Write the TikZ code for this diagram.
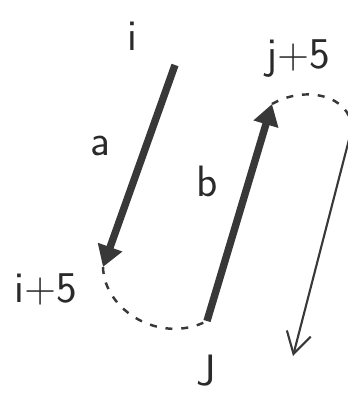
\documentclass[tikz,border=0pt]{standalone}
\usetikzlibrary{arrows.meta}
\definecolor{pencil}{HTML}{383838}
\definecolor{ink}{HTML}{2A2A2A}

\begin{document}
\begin{tikzpicture}[x=0.02cm,y=-0.02cm,font=\sffamily\fontsize{25}{27}\selectfont,>=Latex]
\tikzset{
  strand/.style={pencil,line width=4.2pt,-{Triangle[length=12pt,width=14pt]}},
  hop/.style={pencil,line width=1.4pt,dash pattern=on 4pt off 5pt},
  back/.style={pencil,line width=1.2pt,-{Straight Barb[length=12pt,width=14pt]}},
  lbl/.style={ink}
}
\useasboundingbox (0,0) rectangle (348,393);
\clip (0,0) rectangle (348,393);

% ends of the two strands and of the way back
\coordinate (aS) at (175,65);
\coordinate (aE) at (103,267);
\coordinate (bS) at (207,321);
\coordinate (bE) at (272,104);
\coordinate (turn) at (352,128);
\coordinate (ret) at (293,356);

\node[lbl] (ti) at (132,36) {i};
\node[lbl] (ta) at (100,146) {a};
\node[lbl] (ti5) at (46,289) {i+5};
\node[lbl] (tb) at (207,181) {b};
\node[lbl] (tj5) at (298,59) {j+5};
\node[lbl] (tJ) at (206,371) {J};

\draw[strand] (aS) -- (aE);
\draw[strand] (bS) -- (bE);

% links between the strands
\draw[hop] (aE) .. controls (104,310) and (160,345) .. (bS);
\draw[hop] (bE) .. controls (305,85) and (350,95) .. (turn);
\draw[back] (turn) -- (ret);
\end{tikzpicture}
\end{document}
